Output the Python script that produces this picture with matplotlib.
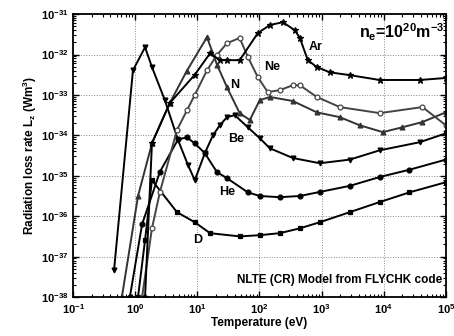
import numpy as np
import matplotlib
matplotlib.use("Agg")
import matplotlib.pyplot as plt
from matplotlib.ticker import FixedLocator, NullFormatter, FixedFormatter

plt.rcParams['font.family'] = ['Liberation Sans', 'DejaVu Sans']
plt.rcParams['font.weight'] = 'bold'
plt.rcParams['mathtext.fontset'] = 'custom'
plt.rcParams['mathtext.rm'] = 'Liberation Sans:bold'
plt.rcParams['mathtext.it'] = 'Liberation Sans:bold'
plt.rcParams['mathtext.bf'] = 'Liberation Sans:bold'

# ---- data: temperature (eV) and log10 of radiation loss rate (W m^3) ----
T_D = [1.11, 1.44, 1.86, 4.7, 9.1, 16, 48, 101, 213, 447, 935, 2840, 8630, 2.6e4, 1e5]
logL_D = [-38.0, -36.59, -35.11, -35.90, -36.15, -36.42, -36.50, -36.47, -36.42,
          -36.30, -36.15, -35.90, -35.65, -35.41, -35.16]

T_He = [0.82, 1.29, 2.5, 4.9, 6.8, 9.1, 13.2, 20.7, 30, 65, 101, 213, 447, 935, 2840, 8630, 2.6e4, 1e5]
logL_He = [-38.0, -36.2, -34.9, -34.1, -34.05, -34.2, -34.44, -34.91, -35.06, -35.41, -35.50,
           -35.53, -35.50, -35.40, -35.25, -35.03, -34.85, -34.60]

T_Be = [0.456, 0.92, 1.44, 1.86, 3.0, 4.9, 7.1, 9.1, 13.2, 17.8, 23, 30, 40, 65, 101, 147,
        344, 935, 2840, 8630, 3.8e4, 1e5]
logL_Be = [-37.34, -32.39, -31.82, -32.31, -33.13, -34.12, -34.74, -35.11, -34.44, -34.00,
           -33.75, -33.55, -33.50, -33.80, -34.07, -34.32, -34.56, -34.69, -34.60, -34.37,
           -34.17, -33.95]

T_N = [0.61, 1.11, 1.86, 3.6, 6.8, 14.3, 20.7, 30, 48, 70, 101, 147, 344, 837, 1963, 4110,
       9640, 2.0e4, 4.2e4, 1e5]
logL_N = [-38.0, -35.5, -34.2, -33.2, -32.4, -31.57, -32.25, -32.81, -33.45, -33.62, -33.13,
          -33.05, -33.15, -33.43, -33.55, -33.75, -33.92, -33.80, -33.67, -33.43]

T_Ne = [1.29, 1.86, 2.5, 4.7, 6.8, 9.1, 14.3, 20.7, 30, 48, 65, 94, 136, 213, 344, 447, 837,
        1963, 8630, 4.2e4, 1e5]
logL_Ne = [-38.0, -36.3, -35.4, -33.87, -33.38, -33.00, -32.39, -32.01, -31.72, -31.59,
           -32.06, -32.56, -32.93, -32.88, -32.76, -32.76, -33.05, -33.30, -33.45, -33.30,
           -33.75]

T_Ar = [1.44, 1.86, 3.6, 9.1, 16, 23, 30, 48, 94, 147, 238, 371, 447, 600, 837, 1355, 2840,
        8630, 3.8e4, 1e5]
logL_Ar = [-38.0, -34.19, -33.2, -32.5, -31.97, -32.14, -32.14, -32.14, -31.47, -31.27,
           -31.20, -31.40, -31.59, -32.14, -32.31, -32.44, -32.51, -32.63, -32.63, -32.58]

x_ticks = [1e-1, 1e0, 1e1, 1e2, 1e3, 1e4, 1e5]
x_ticklabels = ['10$^{-1}$', '10$^{0}$', '10$^{1}$', '10$^{2}$', '10$^{3}$', '10$^{4}$', '10$^{5}$']
y_ticks = [1e-38, 1e-37, 1e-36, 1e-35, 1e-34, 1e-33, 1e-32, 1e-31]
y_ticklabels = ['10$^{-38}$', '10$^{-37}$', '10$^{-36}$', '10$^{-35}$', '10$^{-34}$',
                '10$^{-33}$', '10$^{-32}$', '10$^{-31}$']

species = [
    ("D", T_D, logL_D, "s", "black"),
    ("He", T_He, logL_He, "o", "black"),
    ("Be", T_Be, logL_Be, "v", "black"),
    ("N", T_N, logL_N, "^", "#333333"),
    ("Ne", T_Ne, logL_Ne, "o", "#444444"),
    ("Ar", T_Ar, logL_Ar, "*", "black"),
]

fig = plt.figure(figsize=(4.54, 3.36), dpi=100)
ax = fig.add_axes([0.161, 0.116, 0.821, 0.842])

for name, T, lg, mk, col in species:
    L = np.power(10.0, np.array(lg))
    face = 'white' if name == "Ne" else col
    ax.plot(T, L, color=col, lw=1.4, marker=mk, ms=4.5 if mk == "*" else 3.5,
            mfc=face, mec=col, mew=0.9)

ax.set_xscale('log')
ax.set_yscale('log')
ax.set_xlim(0.1, 1e5)
ax.set_ylim(1e-38, 1e-31)

minor_x = [m * 10.0**e for e in range(-1, 5) for m in range(2, 10)]
minor_y = [m * 10.0**e for e in range(-38, -31) for m in range(2, 10)]
ax.xaxis.set_major_locator(FixedLocator(x_ticks))
ax.xaxis.set_major_formatter(FixedFormatter(x_ticklabels))
ax.yaxis.set_major_locator(FixedLocator(y_ticks))
ax.yaxis.set_major_formatter(FixedFormatter(y_ticklabels))
ax.xaxis.set_minor_locator(FixedLocator(minor_x))
ax.yaxis.set_minor_locator(FixedLocator(minor_y))
ax.xaxis.set_minor_formatter(NullFormatter())
ax.yaxis.set_minor_formatter(NullFormatter())
ax.tick_params(which='both', direction='in', top=True, right=True, labelsize=8)
ax.tick_params(which='major', length=4, width=1)
ax.tick_params(which='minor', length=2, width=0.8)
for s in ax.spines.values():
    s.set_linewidth(1.3)

ax.grid(True, which='major', ls=':', lw=0.7, color='#888888')

ax.set_xlabel('Temperature (eV)', fontsize=8.5, fontweight='bold', labelpad=1)
ax.set_ylabel('Radiation loss rate L$_z$ (Wm$^3$)', fontsize=8.5, fontweight='bold', labelpad=1)

ax.text(0.997, 0.935, 'n$_e$=10$^{20}$m$^{-3}$', transform=ax.transAxes, fontsize=11.5,
        fontweight='bold', ha='right', va='center')
ax.text(0.99, 0.06, 'NLTE (CR) Model from FLYCHK code', transform=ax.transAxes,
        fontsize=8.5, ha='right', va='center')

labels = [("Ar", 800, 10**-31.82), ("Ne", 160, 10**-32.3), ("N", 40, 10**-32.75),
          ("Be", 42, 10**-34.1), ("He", 30, 10**-35.4), ("D", 10, 10**-36.6)]
for txt, tx, ty in labels:
    ax.text(tx, ty, txt, fontsize=9, ha='center', va='center',
            bbox=dict(facecolor='white', edgecolor='none', pad=0.3))

fig.savefig('out.png', dpi=100)
